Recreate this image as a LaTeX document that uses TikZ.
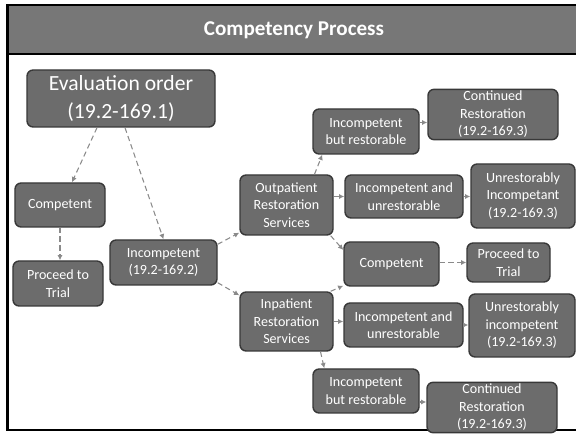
\documentclass[tikz,border=0pt]{standalone}
\usepackage{fontspec}
\setmainfont{Carlito}
\usepackage{xcolor}
\usepackage{tikz}
\usetikzlibrary{positioning, calc, arrows.meta}

\definecolor{boxfill}{HTML}{6C6C6C}
\definecolor{boxline}{HTML}{383838}
\definecolor{barfill}{HTML}{777777}
\definecolor{flowline}{HTML}{8A8A8A}

\begin{document}
\begin{tikzpicture}[x=0.02cm, y=-0.02cm,
    stage/.style={draw=boxline, line width=0.8pt, fill=boxfill, text=white,
      rounded corners=3.5pt, align=center, inner sep=1pt,
      font=\fontsize{8}{10}\selectfont},
    flow/.style={draw=flowline, densely dashed, line width=0.6pt,
      -{Latex[length=3pt, width=3pt]}}]
  \useasboundingbox (0,0) rectangle (576,435);

  % Frame and title bar
  \fill[barfill] (7.5,5) rectangle (576,54);
  \draw[line width=1.2pt] (576,5) -- (7.5,5) -- (7.5,430) -- (576,430);
  \draw[line width=1pt] (7.5,54) -- (576,54);
  \node[text=white, font=\fontsize{12}{14}\selectfont\bfseries] (title) at (294,30) {Competency Process};

  % Left part of the process
  \node[stage, minimum width=188*0.02cm, minimum height=57*0.02cm,
    font=\fontsize{12.3}{15.5}\selectfont] (eval) at (121,98.5) {Evaluation order\\(19.2-169.1)};
  \node[stage, minimum width=90*0.02cm, minimum height=44*0.02cm] (compL) at (60,205) {Competent};
  \node[stage, minimum width=90*0.02cm, minimum height=45*0.02cm] (trialL) at (58,283.5) {Proceed to\\Trial};
  \node[stage, minimum width=107*0.02cm, minimum height=45*0.02cm] (incomp) at (163.5,262.5) {Incompetent\\(19.2-169.2)};

  % Restoration services
  \node[stage, minimum width=93*0.02cm, minimum height=60*0.02cm] (outpat) at (286.5,205) {Outpatient\\Restoration\\Services};
  \node[stage, minimum width=93*0.02cm, minimum height=59*0.02cm] (inpat) at (286.5,321.5) {Inpatient\\Restoration\\Services};

  % Outcomes of outpatient services
  \node[stage, minimum width=106*0.02cm, minimum height=45*0.02cm] (ibrT) at (366,131.5) {Incompetent\\but restorable};
  \node[stage, minimum width=130*0.02cm, minimum height=47*0.02cm] (contT) at (493,114.5) {Continued\\Restoration\\(19.2-169.3)};
  \node[stage, minimum width=118*0.02cm, minimum height=43*0.02cm] (iauT) at (404,196.5) {Incompetent and\\unrestorable};
  \node[stage, minimum width=104*0.02cm, minimum height=64*0.02cm] (unrT) at (523,196) {Unrestorably\\Incompetant\\(19.2-169.3)};

  % Shared outcome
  \node[stage, minimum width=95*0.02cm, minimum height=44*0.02cm] (compM) at (391.5,264) {Competent};
  \node[stage, minimum width=83*0.02cm, minimum height=39*0.02cm] (trialR) at (508.5,262.5) {Proceed to\\Trial};

  % Outcomes of inpatient services
  \node[stage, minimum width=119*0.02cm, minimum height=44*0.02cm] (iauB) at (403.5,325) {Incompetent and\\unrestorable};
  \node[stage, minimum width=106*0.02cm, minimum height=63*0.02cm] (unrB) at (522,325.5) {Unrestorably\\incompetent\\(19.2-169.3)};
  \node[stage, minimum width=106*0.02cm, minimum height=44*0.02cm] (ibrB) at (366,391) {Incompetent\\but restorable};
  \node[stage, minimum width=130*0.02cm, minimum height=49*0.02cm] (contB) at (492,407.5) {Continued\\Restoration\\(19.2-169.3)};

  % Connectors
  \draw[flow] ($(eval.south)+(-24,0)$) -- ($(compL.north)+(12,0)$);
  \draw[flow] ($(eval.south)+(4,0)$) -- (incomp.north);
  \draw[flow] (compL.south) -- (compL.south |- trialL.north);
  \draw[flow] ($(incomp.north east)+(0,5)$) -- ($(outpat.south west)+(0,-3)$);
  \draw[flow] ($(incomp.south east)+(0,-3)$) -- ($(inpat.north west)+(0,4)$);
  \draw[flow] ($(outpat.north)+(28,0)$) -- ($(ibrT.south west)+(10,0)$);
  \draw[flow] (outpat.east |- iauT.west) -- (iauT.west);
  \draw[flow] ($(outpat.south east)+(-3,0)$) -- ($(compM.west)+(0,-14)$);
  \draw[flow] ($(inpat.north east)+(-3,0)$) -- ($(compM.south west)+(0,-1)$);
  \draw[flow] (inpat.east) -- (iauB.west |- inpat.east);
  \draw[flow] ($(inpat.south)+(34,0)$) -- ($(ibrB.north west)+(12,0)$);
  \draw[flow] ($(ibrT.east)+(0,-9)$) -- ($(contT.west)+(0,8)$);
  \draw[flow] (iauT.east) -- (unrT.west |- iauT.east);
  \draw[flow] (compM.east |- trialR.west) -- (trialR.west);
  \draw[flow] (iauB.east) -- (unrB.west |- iauB.east);
  \draw[flow] ($(ibrB.east)+(0,11)$) -- ($(contB.west)+(0,-5.5)$);
\end{tikzpicture}
\end{document}
